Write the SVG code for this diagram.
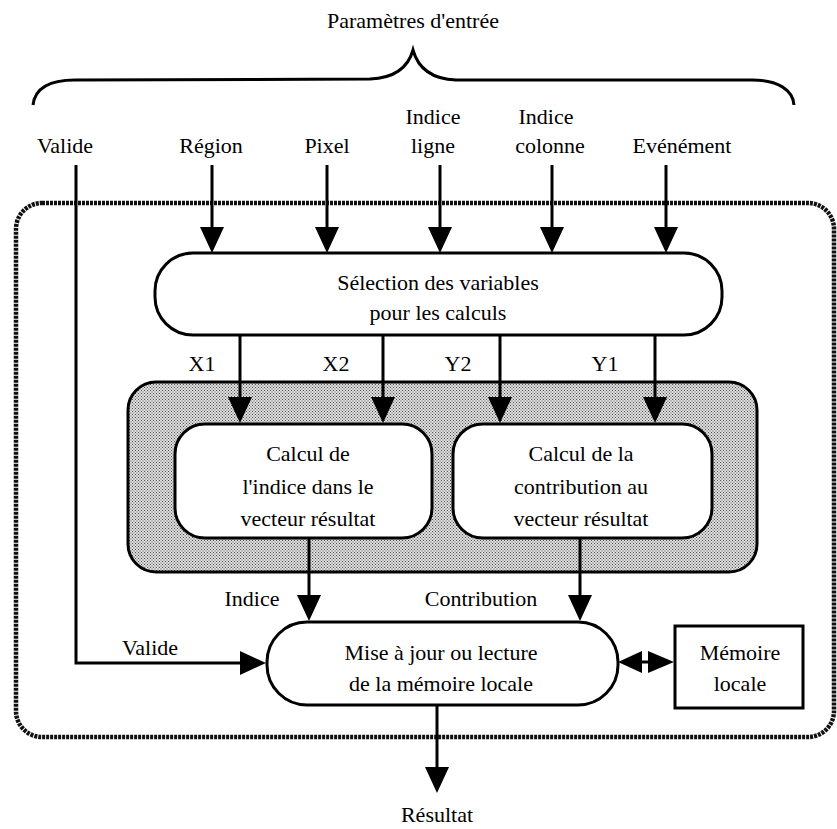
<svg xmlns="http://www.w3.org/2000/svg" width="837" height="829" viewBox="0 0 837 829" font-family="'Liberation Serif', 'Times New Roman', serif" font-size="22" text-anchor="middle">
<defs>
<pattern id="dots" width="3" height="3" patternUnits="userSpaceOnUse">
<rect width="3" height="3" fill="#e0e0e0"/>
<rect x="0" y="0" width="1" height="1" fill="#4a4a4a"/>
<rect x="1.5" y="1.5" width="1" height="1" fill="#4a4a4a"/>
</pattern>
</defs>
<style>
.t{font-family:'Liberation Serif','Times New Roman',serif;font-size:22px;fill:#000;text-anchor:middle}
.box{fill:#fff;stroke:#000;stroke-width:3}
.ln{fill:none;stroke:#000;stroke-width:3}
.head{fill:#000;stroke:none}
</style>

<g id="title">
<text class="t" x="413" y="28">Paramètres d'entrée</text>
<path class="ln" d="M33,105 C35,88 50,80 75,80 L370,79 C395,78 408,68 413,50 C418,68 431,79 456,80 L752,80 C778,80 793,90 794,105"/>
</g>

<g id="outer">
<rect x="16" y="203" width="818" height="534" rx="26" fill="none" stroke="#111" stroke-width="4.5" stroke-dasharray="3 1"/>
</g>

<g id="inputs-labels">
<text class="t" x="65" y="153">Valide</text>
<text class="t" x="211" y="153">Région</text>
<text class="t" x="327" y="153">Pixel</text>
<text class="t" x="433" y="124">Indice</text>
<text class="t" x="433" y="153">ligne</text>
<text class="t" x="546" y="124">Indice</text>
<text class="t" x="550" y="153">colonne</text>
<text class="t" x="682" y="153">Evénément</text>
</g>

<g id="shaded">
<rect x="128" y="382" width="629" height="190" rx="28" fill="url(#dots)" stroke="#000" stroke-width="3"/>
</g>

<g id="selection">
<rect class="box" x="155" y="253" width="567" height="82" rx="38"/>
<text class="t" x="438" y="290">Sélection des variables</text>
<text class="t" x="438" y="320">pour les calculs</text>
</g>

<g id="calc-indice">
<rect class="box" x="175" y="424" width="257" height="114" rx="30"/>
<text class="t" x="308" y="461">Calcul de</text>
<text class="t" x="308" y="494">l'indice dans le</text>
<text class="t" x="308" y="526">vecteur résultat</text>
</g>

<g id="calc-contribution">
<rect class="box" x="453" y="424" width="259" height="114" rx="30"/>
<text class="t" x="581" y="461">Calcul de la</text>
<text class="t" x="581" y="494">contribution au</text>
<text class="t" x="581" y="526">vecteur résultat</text>
</g>

<g id="mise">
<rect class="box" x="267" y="622" width="351" height="83" rx="40"/>
<text class="t" x="441" y="660">Mise à jour ou lecture</text>
<text class="t" x="441" y="691">de la mémoire locale</text>
</g>

<g id="memoire">
<rect class="box" x="675" y="626" width="128" height="82"/>
<text class="t" x="740" y="660">Mémoire</text>
<text class="t" x="740" y="691">locale</text>
</g>

<g id="connectors">
<path class="ln" d="M212,165 V230"/><path class="head" d="M200,227 L224,227 L212,253 Z"/>
<path class="ln" d="M327,165 V230"/><path class="head" d="M315,227 L339,227 L327,253 Z"/>
<path class="ln" d="M440,165 V230"/><path class="head" d="M428,227 L452,227 L440,253 Z"/>
<path class="ln" d="M552,165 V230"/><path class="head" d="M540,227 L564,227 L552,253 Z"/>
<path class="ln" d="M666,165 V230"/><path class="head" d="M654,227 L678,227 L666,253 Z"/>
<path class="ln" d="M240,335 V400"/><path class="head" d="M228,397 L252,397 L240,423 Z"/>
<path class="ln" d="M383,335 V400"/><path class="head" d="M371,397 L395,397 L383,423 Z"/>
<path class="ln" d="M500,335 V400"/><path class="head" d="M488,397 L512,397 L500,423 Z"/>
<path class="ln" d="M655,335 V400"/><path class="head" d="M643,397 L667,397 L655,423 Z"/>
<text class="t" x="202" y="371">X1</text>
<text class="t" x="336" y="371">X2</text>
<text class="t" x="458" y="371">Y2</text>
<text class="t" x="605" y="371">Y1</text>
<path class="ln" d="M309,538 V598"/><path class="head" d="M297,595 L321,595 L309,621 Z"/>
<path class="ln" d="M580,538 V598"/><path class="head" d="M568,595 L592,595 L580,621 Z"/>
<text class="t" x="252" y="606">Indice</text>
<text class="t" x="481" y="606">Contribution</text>
<path class="ln" d="M76,165 V663 H242"/><path class="head" d="M240,651 L240,675 L266,663 Z"/>
<text class="t" x="150" y="655">Valide</text>
<path class="ln" d="M640,662 H650"/>
<path class="head" d="M618,662 L642,651 L642,673 Z"/>
<path class="head" d="M674,662 L648,651 L648,673 Z"/>
<path class="ln" d="M437,705 V770"/><path class="head" d="M425,767 L449,767 L437,793 Z"/>
<text class="t" x="437" y="822">Résultat</text>
</g>
</svg>
